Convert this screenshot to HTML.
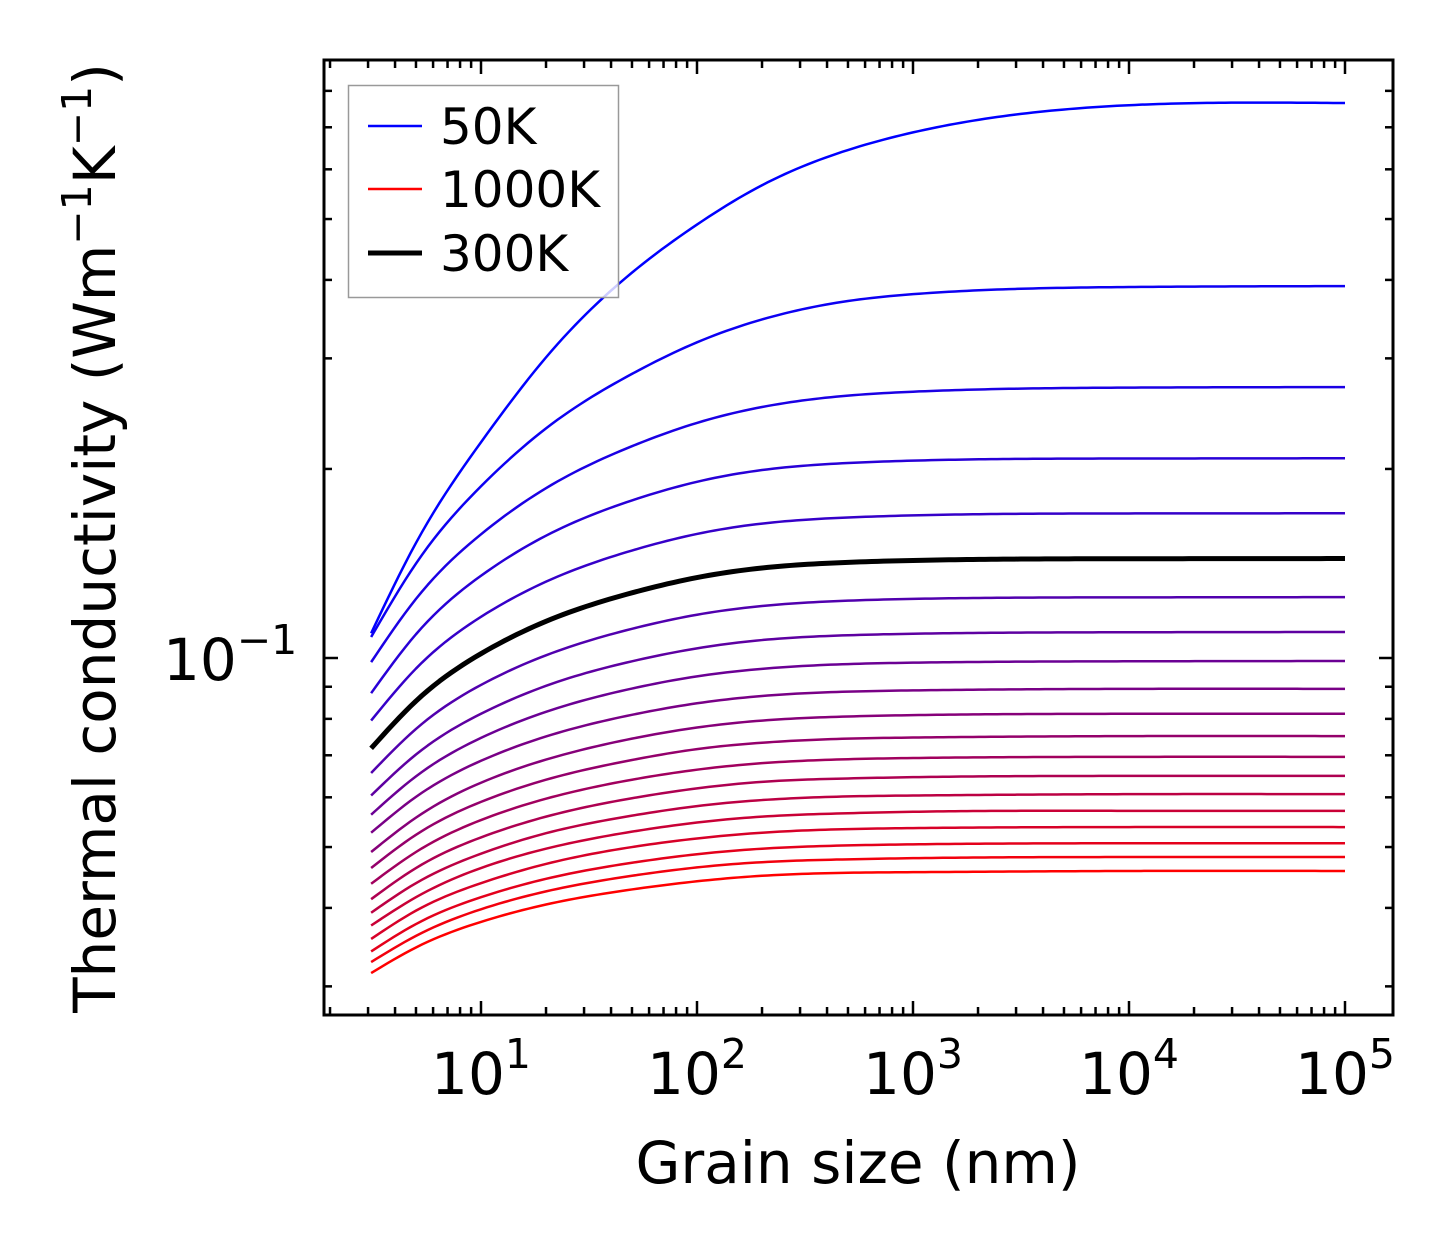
<!DOCTYPE html>
<html><head><meta charset="utf-8"><style>
html,body{margin:0;padding:0;background:#fff;}
svg{display:block;font-family:"DejaVu Sans","Liberation Sans",sans-serif;}
</style></head><body>
<svg id="chart" width="1454" height="1254" viewBox="0 0 1454 1254" xmlns="http://www.w3.org/2000/svg">
<rect x="0" y="0" width="1454" height="1254" fill="#fff"/>
<g id="curves"></g>
<g id="axes"></g>
<text x="858" y="1183" font-size="58" text-anchor="middle">Grain size (nm)</text>
<text transform="translate(115,538) rotate(-90)" font-size="58" text-anchor="middle">Thermal conductivity (Wm<tspan dy="-24" font-size="41">−1</tspan><tspan dy="24">K</tspan><tspan dy="-24" font-size="41">−1</tspan><tspan dy="24">)</tspan></text>
<g>
<rect x="348.5" y="85.5" width="270" height="212" fill="rgba(255,255,255,0.8)" stroke="#999" stroke-width="1.5"/>
<g><line x1="368" y1="126" x2="422" y2="126" stroke="rgb(0,0,255)" stroke-width="2.5"/><text x="440" y="144" font-size="50">50K</text></g>
<g><line x1="368" y1="189" x2="422" y2="189" stroke="rgb(255,0,0)" stroke-width="2.5"/><text x="440" y="207" font-size="50">1000K</text></g>
<g><line x1="368" y1="253" x2="422" y2="253" stroke="#000" stroke-width="5"/><text x="440" y="271" font-size="50">300K</text></g>
</g>
</svg>
<script>
const grainSizes = [3.1, 5, 10, 20, 50, 100, 200, 500, 1000, 10000, 100000];
const temperatures = [50,100,150,200,250,300,350,400,450,500,550,600,650,700,750,800,850,900,950,1000];
const k50 = [.1095,.1525,.2206,.3011,.4108,.4900,.5660,.6440,.6870,.7590,.765];
const k100 = [.1080,.1414,.1877,.2321,.2834,.3182,.3460,.3702,.3796,.3897,.391];
const k150 = [.0985,.1242,.1574,.1864,.2174,.2368,.2510,.2617,.2655,.2695,.270];
const k200 = [.0879,.1091,.1352,.1566,.1782,.1908,.1992,.2044,.2062,.2078,.208];
const k250 = [.0795,.0962,.1163,.1323,.1483,.1576,.1637,.1674,.1687,.1699,.170];
const k300 = [.0718,.0854,.1016,.1144,.1270,.1343,.1391,.1420,.1430,.1439,.144];
const k350 = [.0656,.0771,.0906,.1010,.1113,.1172,.1210,.1234,.1242,.1249,.125];
const k400 = [.0604,.0702,.0815,.0903,.0988,.1036,.1068,.1087,.1093,.1099,.110];
const k450 = [.0563,.0648,.0746,.0821,.0894,.0935,.0961,.0978,.0983,.0988,.0989];
const k500 = [.0527,.0601,.0686,.0750,.0812,.0847,.0870,.0884,.0888,.0893,.0893];
const k550 = [.0491,.0557,.0633,.0689,.0744,.0775,.0795,.0807,.0811,.0815,.0815];
const k600 = [.0463,.0523,.0590,.0640,.0688,.0716,.0733,.0744,.0747,.0751,.0751];
const k650 = [.0437,.0491,.0552,.0597,.0640,.0664,.0680,.0690,.0693,.0696,.0696];
const k700 = [.0413,.0463,.0518,.0559,.0598,.0620,.0635,.0643,.0646,.0649,.0649];
const k750 = [.0393,.0438,.0488,.0526,.0561,.0581,.0594,.0602,.0604,.0607,.0607];
const k800 = [.0375,.0416,.0463,.0497,.0529,.0547,.0559,.0566,.0569,.0571,.0571];
const k850 = [.0357,.0396,.0438,.0470,.0500,.0516,.0527,.0534,.0536,.0538,.0538];
const k900 = [.0341,.0377,.0416,.0445,.0472,.0487,.0497,.0503,.0505,.0507,.0507];
const k950 = [.0328,.0361,.0398,.0425,.0450,.0464,.0473,.0478,.0480,.0482,.0482];
const k1000 = [.0315,.0346,.0380,.0405,.0428,.0441,.0450,.0455,.0456,.0458,.0458];
const series = [k50,k100,k150,k200,k250,k300,k350,k400,k450,k500,k550,k600,k650,k700,k750,k800,k850,k900,k950,k1000];
const xTickExps = [1, 2, 3, 4, 5];
const yTickExps = [-1];

const NS = "http://www.w3.org/2000/svg";
const PL = 324, PR = 1393, PT = 60, PB = 1015;
function xs(v){ return 481 + (Math.log10(v) - 1) * 216; }
function ys(v){ return 658 - (Math.log10(v) + 1) * 628; }
function mk(tag, attrs, parent){ const e = document.createElementNS(NS, tag); for (const k in attrs) e.setAttribute(k, attrs[k]); parent.appendChild(e); return e; }

function splinePath(px, py){
  const n = px.length, h = [], a = new Array(n).fill(0), b = new Array(n).fill(0), c = new Array(n).fill(0), r = new Array(n).fill(0);
  for (let i=0;i<n-1;i++) h.push(px[i+1]-px[i]);
  b[0]=1; b[n-1]=1;
  for (let i=1;i<n-1;i++){ a[i]=h[i-1]; b[i]=2*(h[i-1]+h[i]); c[i]=h[i]; r[i]=6*((py[i+1]-py[i])/h[i]-(py[i]-py[i-1])/h[i-1]); }
  for (let i=1;i<n;i++){ const w=a[i]/b[i-1]; b[i]-=w*c[i-1]; r[i]-=w*r[i-1]; }
  const M = new Array(n).fill(0);
  M[n-1]=r[n-1]/b[n-1];
  for (let i=n-2;i>=0;i--) M[i]=(r[i]-c[i]*M[i+1])/b[i];
  let s = "M" + px[0].toFixed(2) + "," + py[0].toFixed(2);
  for (let i=0;i<n-1;i++){
    const steps = Math.max(4, Math.ceil(h[i]/6));
    for (let k=1;k<=steps;k++){
      const x = px[i] + h[i]*k/steps, A=(px[i+1]-x)/h[i], B=(x-px[i])/h[i];
      const y = A*py[i]+B*py[i+1]+((A*A*A-A)*M[i]+(B*B*B-B)*M[i+1])*h[i]*h[i]/6;
      s += " L" + x.toFixed(2) + "," + y.toFixed(2);
    }
  }
  return s;
}

const cg = document.getElementById("curves");
const order = series.map((_, i) => i).filter(i => temperatures[i] !== 300).concat([5]);
order.forEach(i => {
  const t = i / (series.length - 1);
  const is300 = temperatures[i] === 300;
  const col = is300 ? "#000" : "rgb(" + Math.round(255*t) + ",0," + Math.round(255*(1-t)) + ")";
  const p = mk("path", {d: splinePath(grainSizes.map(xs), series[i].map(ys)), fill: "none", stroke: col, "stroke-width": is300 ? 5 : 2.5, "stroke-linejoin": "round"}, cg);
  
  
});

const ag = document.getElementById("axes");
for (let e = 0; e <= 5; e++) {
  for (let k = 1; k <= 9; k++) {
    const v = k * Math.pow(10, e), x = xs(v);
    if (x < PL || x > PR) continue;
    const len = k === 1 ? 14 : 8;
    const t1 = mk("line", {x1:x, x2:x, y1:PB, y2:PB-len, stroke:"#000", "stroke-width": 2.5}, ag);
    
    
    const t2 = mk("line", {x1:x, x2:x, y1:PT, y2:PT+len, stroke:"#000", "stroke-width": 2.5}, ag);
    
    
  }
}
for (let e = -2; e <= 0; e++) {
  for (let k = 1; k <= 9; k++) {
    const v = k * Math.pow(10, e), y = ys(v);
    if (y < PT || y > PB) continue;
    const len = k === 1 ? 14 : 8;
    const t1 = mk("line", {x1:PL, x2:PL+len, y1:y, y2:y, stroke:"#000", "stroke-width": 2.5}, ag);
    
    
    const t2 = mk("line", {x1:PR, x2:PR-len, y1:y, y2:y, stroke:"#000", "stroke-width": 2.5}, ag);
    
    
  }
}
const frame = mk("rect", {x:PL, y:PT, width:PR-PL, height:PB-PT, fill:"none", stroke:"#000", "stroke-width":3}, ag);



xTickExps.forEach(e => {
  const x = xs(Math.pow(10, e));
  const t = mk("text", {x: x, y: 1094, "font-size": 58, "text-anchor": "middle"}, ag);
  
  
  t.textContent = "10";
  const s = mk("tspan", {dy: -26, "font-size": 41}, t);
  s.textContent = String(e);
});
yTickExps.forEach(e => {
  const y = ys(Math.pow(10, e));
  const t = mk("text", {x: 163, y: y + 22, "font-size": 58}, ag);
  
  
  t.textContent = "10";
  const s = mk("tspan", {dy: -26, "font-size": 41}, t);
  s.textContent = "−" + Math.abs(e);
});
</script>
</body></html>
